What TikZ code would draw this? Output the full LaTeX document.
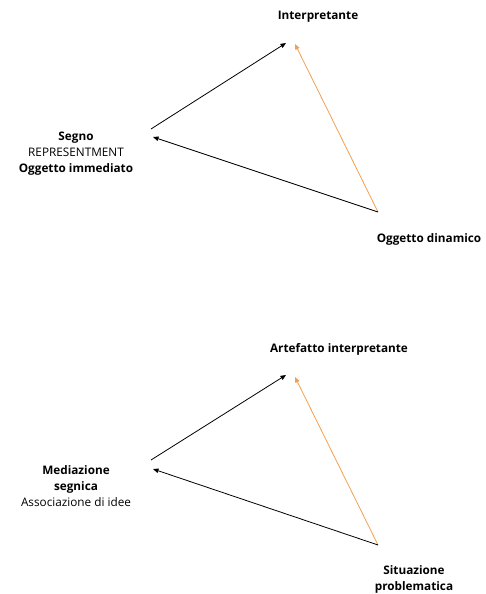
\documentclass[tikz,border=0pt]{standalone}
\usepackage{fontspec}
\setmainfont{Open Sans}
\usepackage{tikz}
\usetikzlibrary{arrows.meta}
\definecolor{arrorange}{RGB}{242,160,80}
\begin{document}
\begin{tikzpicture}[x=1bp,y=-1bp,font=\fontsize{11.8}{16}\selectfont,
  link/.style={-{Triangle[length=5.5bp,width=4.5bp]},line width=0.8bp},
  lbl/.style={align=center,inner sep=0pt}]
\useasboundingbox (0,0) rectangle (486,594);
% upper triangle
\coordinate (s1) at (151,129); \coordinate (s1b) at (153,137);
\coordinate (i1a) at (286,43); \coordinate (i1b) at (295,44);
\coordinate (o1) at (378,212);
\node[lbl] (interp) at (318,17) {\textbf{Interpretante}};
\node[lbl] (segno) at (76,154) {\textbf{Segno}\\REPRESENTMENT\\\textbf{Oggetto immediato}};
\node[lbl] (dinam) at (429,239) {\textbf{Oggetto dinamico}};
\draw[link] (s1) -- (i1a);
\draw[link,arrorange] (o1) -- (i1b);
\draw[link] (o1) -- (s1b);
% lower triangle
\coordinate (s2) at (151,460); \coordinate (s2b) at (153,469);
\coordinate (i2a) at (286,375); \coordinate (i2b) at (295,377);
\coordinate (o2) at (378,545);
\node[lbl] (artef) at (339,349) {\textbf{Artefatto interpretante}};
\node[lbl] (media) at (76,486) {\textbf{Mediazione}\\\textbf{segnica}\\Associazione di idee};
\node[lbl] (situa) at (414,579) {\textbf{Situazione}\\\textbf{problematica}};
\draw[link] (s2) -- (i2a);
\draw[link,arrorange] (o2) -- (i2b);
\draw[link] (o2) -- (s2b);
\end{tikzpicture}
\end{document}
